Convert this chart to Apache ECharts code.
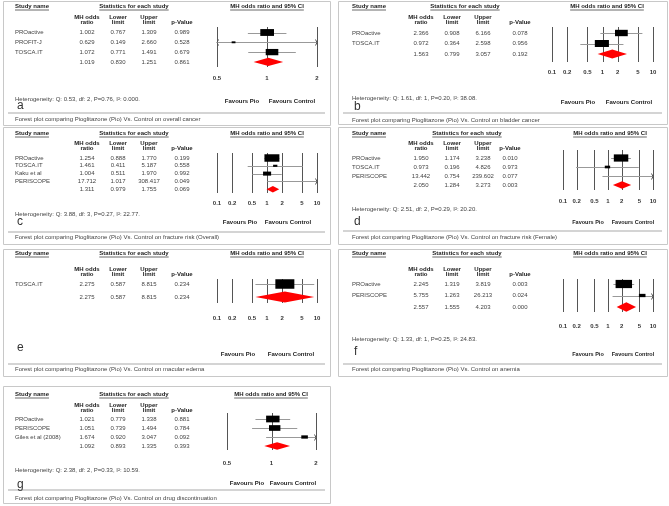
<!DOCTYPE html>
<html><head><meta charset="utf-8">
<script src="https://cdn.jsdelivr.net/npm/echarts@6/dist/echarts.min.js"></script>
<style>html,body{margin:0;padding:0;background:#fff}#c{width:669px;height:506px}</style>
</head><body><div id="c"></div>
<script>
// ---------- DATA ----------
const studiesA = ['PROactive', 'PROFIT-J', 'TOSCA.IT'];
const orA = [1.002, 0.629, 1.072];
const lowerA = [0.767, 0.149, 0.771];
const upperA = [1.309, 2.660, 1.491];
const pA = [0.989, 0.528, 0.679];
const weightA = [52, 4, 44];
const summaryA = [1.019, 0.830, 1.251, 0.861];
const hetA = 'Heterogeneity: Q: 0.53, df: 2, P=0.76, I\u00b2: 0.000.';
const captionA = 'Forest plot comparing Pioglitazone (Pio) Vs. Control on overall cancer';
const ticksA = [0.5, 1, 2];

const studiesB = ['PROactive', 'TOSCA.IT'];
const orB = [2.366, 0.972];
const lowerB = [0.908, 0.364];
const upperB = [6.166, 2.598];
const pB = [0.078, 0.956];
const weightB = [45, 55];
const summaryB = [1.563, 0.799, 3.057, 0.192];
const hetB = 'Heterogeneity: Q: 1.61, df: 1, P=0.20, I\u00b2: 38.08.';
const captionB = 'Forest plot comparing Pioglitazone (Pio) Vs. Control on bladder cancer';
const ticksB = [0.1, 0.2, 0.5, 1, 2, 5, 10];

const studiesC = ['PROactive', 'TOSCA.IT', 'Kaku et al', 'PERISCOPE'];
const orC = [1.254, 1.461, 1.004, 17.712];
const lowerC = [0.888, 0.411, 0.511, 1.017];
const upperC = [1.770, 5.187, 1.970, 308.417];
const pC = [0.199, 0.558, 0.992, 0.049];
const weightC = [62, 5, 18, 1];
const summaryC = [1.311, 0.979, 1.755, 0.069];
const hetC = 'Heterogeneity: Q: 3.88, df: 3, P=0.27, I\u00b2: 22.77.';
const captionC = 'Forest plot comparing Pioglitazone (Pio) Vs. Control on fracture risk (Overall)';
const ticksC = [0.1, 0.2, 0.5, 1, 2, 5, 10];

const studiesD = ['PROactive', 'TOSCA.IT', 'PERISCOPE'];
const orD = [1.950, 0.973, 13.442];
const lowerD = [1.174, 0.196, 0.754];
const upperD = [3.238, 4.826, 239.602];
const pD = [0.010, 0.973, 0.077];
const weightD = [58, 8, 2];
const summaryD = [2.050, 1.284, 3.273, 0.003];
const hetD = 'Heterogeneity: Q: 2.51, df: 2, P=0.29, I\u00b2: 20.20.';
const captionD = 'Forest plot comparing Pioglitazone (Pio) Vs. Control on fracture risk (Female)';
const ticksD = [0.1, 0.2, 0.5, 1, 2, 5, 10];

const studiesE = ['TOSCA.IT'];
const orE = [2.275];
const lowerE = [0.587];
const upperE = [8.815];
const pE = [0.234];
const weightE = [100];
const summaryE = [2.275, 0.587, 8.815, 0.234];
const hetE = '';
const captionE = 'Forest plot comparing Pioglitazone (Pio) Vs. Control on macular edema';
const ticksE = [0.1, 0.2, 0.5, 1, 2, 5, 10];

const studiesF = ['PROactive', 'PERISCOPE'];
const orF = [2.245, 5.755];
const lowerF = [1.319, 1.263];
const upperF = [3.819, 26.213];
const pF = [0.003, 0.024];
const weightF = [75, 12];
const summaryF = [2.557, 1.555, 4.203, 0.000];
const hetF = 'Heterogeneity: Q: 1.33, df: 1, P=0.25, I\u00b2: 24.83.';
const captionF = 'Forest plot comparing Pioglitazone (Pio) Vs. Control on anemia';
const ticksF = [0.1, 0.2, 0.5, 1, 2, 5, 10];

const studiesG = ['PROactive', 'PERISCOPE', 'Giles et al (2008)'];
const orG = [1.021, 1.051, 1.674];
const lowerG = [0.779, 0.739, 0.920];
const upperG = [1.338, 1.494, 3.047];
const pG = [0.881, 0.784, 0.092];
const weightG = [50, 36, 12];
const summaryG = [1.092, 0.893, 1.335, 0.393];
const hetG = 'Heterogeneity: Q: 2.38, df: 2, P=0.33, I\u00b2: 10.59.';
const captionG = 'Forest plot comparing Pioglitazone (Pio) Vs. Control on drug discontinuation';
const ticksG = [0.5, 1, 2];

const panelLetters = ['a', 'b', 'c', 'd', 'e', 'f', 'g'];
const headStudy = 'Study name';
const headStats = 'Statistics for each study';
const headPlot = 'MH odds ratio and 95% CI';
const colHeads = [['MH odds', 'ratio'], ['Lower', 'limit'], ['Upper', 'limit'], ['', 'p-Value']];
const favPio = 'Favours Pio';
const favCon = 'Favours Control';

// ---------- LAYOUT ----------
const L = [
 {fx:3,fy:1,fw:327,fh:124, nameX:15, colX:[87,118,149,182], statsX:134, plotHeadX:267, headY:6, colY:17, plotL:217, plotR:317, lineTop:27, lineBot:67, row0:32.5, rowH:9.8, tickY:78, hetY:99, letterY:106, favPioX:242, favConX:292, favY:101, favFs:6, sepY:113, capY:119},
 {fx:338,fy:1,fw:329,fh:123, nameX:352, colX:[421,452,483,520], statsX:465, plotHeadX:607, headY:6, colY:17, plotL:552, plotR:653, lineTop:27, lineBot:62, row0:33, rowH:10.5, tickY:72, hetY:98, letterY:107, favPioX:578, favConX:629, favY:102, favFs:6, sepY:113, capY:120},
 {fx:3,fy:127,fw:327,fh:117, nameX:15, colX:[87,118,149,182], statsX:134, plotHeadX:267, headY:133, colY:143, plotL:217, plotR:317, lineTop:153, lineBot:193, row0:158, rowH:7.8, tickY:203, hetY:214, letterY:222, favPioX:240, favConX:288, favY:222, favFs:6, sepY:232, capY:237},
 {fx:338,fy:127,fw:329,fh:117, nameX:352, colX:[421,452,483,510], statsX:467, plotHeadX:610, headY:133, colY:143, plotL:563, plotR:653, lineTop:150, lineBot:190, row0:158, rowH:9, tickY:201, hetY:209, letterY:222, favPioX:588, favConX:633, favY:222, favFs:5.5, sepY:231, capY:237},
 {fx:3,fy:249,fw:327,fh:127, nameX:15, colX:[87,118,149,182], statsX:134, plotHeadX:267, headY:253, colY:269, plotL:217, plotR:317, lineTop:279, lineBot:303, row0:284, rowH:13, tickY:318, hetY:0, letterY:348, favPioX:238, favConX:291, favY:354, favFs:6, sepY:364, capY:369},
 {fx:338,fy:249,fw:329,fh:127, nameX:352, colX:[421,452,483,520], statsX:467, plotHeadX:610, headY:253, colY:269, plotL:563, plotR:653, lineTop:279, lineBot:312, row0:284, rowH:11.5, tickY:326, hetY:339, letterY:352, favPioX:588, favConX:633, favY:354, favFs:5.5, sepY:364, capY:369},
 {fx:3,fy:386,fw:327,fh:117, nameX:15, colX:[87,118,149,182], statsX:134, plotHeadX:271, headY:394, colY:405, plotL:227, plotR:316, lineTop:413, lineBot:450, row0:419, rowH:9, tickY:463, hetY:470, letterY:485, favPioX:247, favConX:293, favY:483, favFs:6, sepY:490, capY:498}
];

const D = [
 {s:studiesA,or:orA,lo:lowerA,hi:upperA,p:pA,w:weightA,sum:summaryA,het:hetA,cap:captionA,ticks:ticksA},
 {s:studiesB,or:orB,lo:lowerB,hi:upperB,p:pB,w:weightB,sum:summaryB,het:hetB,cap:captionB,ticks:ticksB},
 {s:studiesC,or:orC,lo:lowerC,hi:upperC,p:pC,w:weightC,sum:summaryC,het:hetC,cap:captionC,ticks:ticksC},
 {s:studiesD,or:orD,lo:lowerD,hi:upperD,p:pD,w:weightD,sum:summaryD,het:hetD,cap:captionD,ticks:ticksD},
 {s:studiesE,or:orE,lo:lowerE,hi:upperE,p:pE,w:weightE,sum:summaryE,het:hetE,cap:captionE,ticks:ticksE},
 {s:studiesF,or:orF,lo:lowerF,hi:upperF,p:pF,w:weightF,sum:summaryF,het:hetF,cap:captionF,ticks:ticksF},
 {s:studiesG,or:orG,lo:lowerG,hi:upperG,p:pG,w:weightG,sum:summaryG,het:hetG,cap:captionG,ticks:ticksG}
];

const FAM = '"Liberation Sans", Arial, sans-serif';
const FB = 'bold 6px ' + FAM;
const FN = '6px ' + FAM;
const cv = document.createElement('canvas').getContext('2d');
function tw(t, f) { cv.font = f; return cv.measureText(t).width; }

function txt(t, x, y, font, align, fill) {
  return {type:'text', silent:true, z:10, style:{text:t, x:x, y:y, font:font, fill:fill || '#333',
    align:align || 'left', verticalAlign:'middle', textAlign:align || 'left', textVerticalAlign:'middle'}};
}
function hline(x1, x2, y, stroke, lw) {
  return {type:'line', silent:true, z:9, shape:{x1:x1, y1:y, x2:x2, y2:y}, style:{stroke:stroke, lineWidth:lw || 1}};
}

const grids = [], xAxes = [], yAxes = [], series = [], graphic = [];

D.forEach((d, k) => {
  const g = L[k];
  const xmin = d.ticks[0], xmax = d.ticks[d.ticks.length - 1];
  grids.push({left:g.plotL, top:g.lineTop, width:g.plotR - g.plotL, height:g.lineBot - g.lineTop});
  xAxes.push({type:'log', logBase:10, gridIndex:k, min:xmin, max:xmax, show:false});
  yAxes.push({type:'value', gridIndex:k, inverse:true, min:(g.lineTop - g.row0) / g.rowH, max:(g.lineBot - g.row0) / g.rowH, show:false});

  // tick lines and labels
  series.push({
    type:'custom', coordinateSystem:'cartesian2d', xAxisIndex:k, yAxisIndex:k, clip:false, z:1, silent:true,
    encode:{x:0, y:1},
    data:d.ticks.map(v => [v, 0]),
    renderItem:function (params, api) {
      const v = api.value(0);
      const yMin = (g.lineTop - g.row0) / g.rowH, yMax = (g.lineBot - g.row0) / g.rowH;
      const p1 = api.coord([v, yMin]), p2 = api.coord([v, yMax]);
      const x = Math.round(p1[0]) + 0.5;
      return {type:'group', children:[
        {type:'line', shape:{x1:x, y1:p1[1], x2:x, y2:p2[1]}, style:{stroke:'#555', lineWidth:1}},
        {type:'text', style:{text:String(v), x:p1[0], y:g.tickY, font:FB, fill:'#333', align:'center', verticalAlign:'middle', textAlign:'center', textVerticalAlign:'middle'}}
      ]};
    }
  });

  // forest rows
  const rows = d.s.map((s, i) => [d.or[i], i, d.lo[i], d.hi[i], d.w[i], 0]);
  rows.push([d.sum[0], d.s.length, d.sum[1], d.sum[2], 0, 1]);
  series.push({
    type:'custom', coordinateSystem:'cartesian2d', xAxisIndex:k, yAxisIndex:k, clip:false, z:2, silent:true,
    encode:{x:0, y:1},
    data:rows,
    renderItem:function (params, api) {
      const or = api.value(0), i = api.value(1), lo = api.value(2), hi = api.value(3), w = api.value(4), isSum = api.value(5);
      const cl = v => Math.min(Math.max(v, xmin), xmax);
      const px = v => api.coord([cl(v), i])[0];
      const y = api.coord([1, i])[1];
      const ch = [];
      if (isSum) {
        const h = g.rowH * 0.42;
        ch.push({type:'polygon', shape:{points:[[px(lo), y], [px(or), y - h], [px(hi), y], [px(or), y + h]]}, style:{fill:'#ff0000'}});
      } else {
        const x1 = px(lo), x2 = px(hi), yy = Math.round(y) + 0.5;
        ch.push({type:'line', shape:{x1:x1, y1:yy, x2:x2, y2:yy}, style:{stroke:'#999', lineWidth:1}});
        if (lo < xmin) ch.push({type:'polyline', shape:{points:[[x1 + 1.5, yy - 3], [x1, yy], [x1 + 1.5, yy + 3]]}, style:{stroke:'#555', lineWidth:1, fill:null}});
        if (hi > xmax) ch.push({type:'polyline', shape:{points:[[x2 - 1.5, yy - 3], [x2, yy], [x2 - 1.5, yy + 3]]}, style:{stroke:'#555', lineWidth:1, fill:null}});
        if (or >= xmin && or <= xmax) {
          const bh = Math.max(1.5, 0.95 * Math.sqrt(w)), bw = 2 * bh;
          const cx = px(or);
          ch.push({type:'rect', shape:{x:cx - bw / 2, y:y - bh / 2, width:bw, height:bh}, style:{fill:'#000'}});
        }
      }
      return {type:'group', children:ch};
    }
  });

  // frame
  graphic.push({type:'rect', silent:true, z:0, shape:{x:g.fx + 0.5, y:g.fy + 0.5, width:g.fw, height:g.fh}, style:{stroke:'#c8c8c8', fill:'#fff', lineWidth:1}});
  // headers (bold underlined)
  const hs = [[headStudy, g.nameX, 'left'], [headStats, g.statsX, 'center'], [headPlot, g.plotHeadX, 'center']];
  hs.forEach(([t, x, a]) => {
    graphic.push(txt(t, x, g.headY, FB, a, '#222'));
    const wdt = tw(t, FB);
    const x1 = a === 'left' ? x : x - wdt / 2;
    graphic.push(hline(x1, x1 + wdt, g.headY + 4, '#444', 0.8));
  });
  colHeads.forEach((pair, j) => {
    if (pair[0]) graphic.push(txt(pair[0], g.colX[j], g.colY, FB, 'center', '#222'));
    graphic.push(txt(pair[1], g.colX[j], g.colY + 5.7, FB, 'center', '#222'));
  });
  // table rows
  const n = d.s.length;
  for (let i = 0; i <= n; i++) {
    const y = g.row0 + i * g.rowH;
    const vals = i < n ? [d.or[i], d.lo[i], d.hi[i], d.p[i]] : d.sum;
    if (i < n) graphic.push(txt(d.s[i], g.nameX, y, FN, 'left', '#444'));
    vals.forEach((v, j) => graphic.push(txt(v.toFixed(3), g.colX[j], y, FN, 'center', '#444')));
  }
  if (d.het) graphic.push(txt(d.het, g.nameX, g.hetY, FN, 'left', '#444'));
  graphic.push(txt(panelLetters[k], g.nameX + 2, g.letterY, '12px ' + FAM, 'left', '#333'));
  const FF = 'bold ' + g.favFs + 'px ' + FAM;
  graphic.push(txt(favPio, g.favPioX, g.favY, FF, 'center', '#222'));
  graphic.push(txt(favCon, g.favConX, g.favY, FF, 'center', '#222'));
  graphic.push(hline(g.fx + 5, g.fx + g.fw - 5, g.sepY, '#aaa', 1.2));
  graphic.push(txt(d.cap, g.nameX, g.capY, FN, 'left', '#444'));
});

const chart = echarts.init(document.getElementById('c'), null, {renderer:'canvas'});
chart.setOption({
  animation:false,
  backgroundColor:'#fff',
  grid:grids, xAxis:xAxes, yAxis:yAxes, series:series,
  graphic:{elements:graphic}
});
</script></body></html>
